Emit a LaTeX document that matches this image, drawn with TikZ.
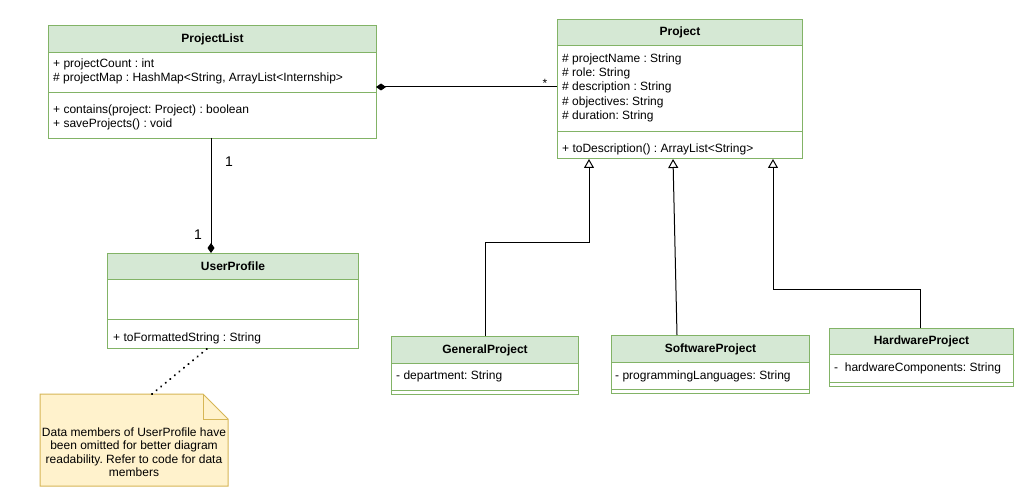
\documentclass[tikz,border=0pt]{standalone}
\usepackage{fontspec}
\setmainfont{Liberation Sans}
\usetikzlibrary{arrows.meta,calc}
\definecolor{hdr}{HTML}{D5E8D4}
\definecolor{hdrline}{HTML}{82B366}
\definecolor{notefill}{HTML}{FFF2CC}
\definecolor{noteline}{HTML}{D6B656}
\tikzset{
  classbox/.style={draw=hdrline, fill=white, line width=1pt, anchor=north west, inner sep=0pt},
  hdrbox/.style={draw=hdrline, fill=hdr, line width=1pt, anchor=north west, inner sep=0pt},
  title/.style={font=\fontsize{12}{14}\selectfont\bfseries, inner sep=0pt},
  member/.style={font=\fontsize{12}{14}\selectfont\frenchspacing, anchor=base west, inner sep=0pt},
  divider/.style={draw=hdrline, line width=1pt},
  conn/.style={draw=black, line width=1pt},
  inherit/.style={conn, -{Triangle[open, length=9pt, width=10pt]}},
  compos/.style={conn, {Diamond[length=10pt, width=7pt]}-},
  mult/.style={font=\fontsize{14}{16}\selectfont, inner sep=0pt},
  notetext/.style={font=\fontsize{12}{13.5}\selectfont\frenchspacing, align=center, inner sep=0pt}
}
\begin{document}
\begin{tikzpicture}[x=1pt, y=-1pt]
\useasboundingbox[fill=white] (0,0) rectangle (1030,497);

% ProjectList
\node[classbox, minimum width=328pt, minimum height=113pt] (pl) at (48,25) {};
\node[hdrbox, minimum width=328pt, minimum height=27pt] (plh) at (48,25) {};
\node[title] (plt) at (plh.center) {ProjectList};
\draw[divider] (48,93) -- (376,93);
\node[member] (pla1) at (53,67.5) {+ projectCount : int};
\node[member] (pla2) at (53,81.5) {\# projectMap : HashMap<String, ArrayList<Internship>};
\node[member] (plm1) at (53,113.5) {+ contains(project: Project) : boolean};
\node[member] (plm2) at (53,127.5) {+ saveProjects() : void};

% Project
\node[classbox, minimum width=245pt, minimum height=139pt] (pj) at (557,19) {};
\node[hdrbox, minimum width=245pt, minimum height=26pt] (pjh) at (557,19) {};
\node[title] (pjt) at (pjh.center) {Project};
\draw[divider] (557,132) -- (802,132);
\node[member] (pja1) at (562,62.5) {\# projectName : String};
\node[member] (pja2) at (562,76.7) {\# role: String};
\node[member] (pja3) at (562,91) {\# description : String};
\node[member] (pja4) at (562,105.2) {\# objectives: String};
\node[member] (pja5) at (562,119.4) {\# duration: String};
\node[member] (pjm1) at (562,152.5) {+ toDescription() : ArrayList<String>};

% UserProfile
\node[classbox, minimum width=251pt, minimum height=95pt] (up) at (107,253) {};
\node[hdrbox, minimum width=251pt, minimum height=26pt] (uph) at (107,253) {};
\node[title] (upt) at (uph.center) {UserProfile};
\draw[divider] (107,319) -- (358,319);
\node[member] (upm1) at (113,341) {+ toFormattedString : String};

% GeneralProject
\node[classbox, minimum width=187pt, minimum height=58pt] (gp) at (391,336) {};
\node[hdrbox, minimum width=187pt, minimum height=27pt] (gph) at (391,336) {};
\node[title] (gpt) at (gph.center) {GeneralProject};
\draw[divider] (391,390) -- (578,390);
\node[member] (gpa1) at (396,379.5) {- department: String};

% SoftwareProject
\node[classbox, minimum width=198pt, minimum height=58pt] (sp) at (611,335) {};
\node[hdrbox, minimum width=198pt, minimum height=27pt] (sph) at (611,335) {};
\node[title] (spt) at (sph.center) {SoftwareProject};
\draw[divider] (611,389) -- (809,389);
\node[member] (spa1) at (615,379) {- programmingLanguages: String};

% HardwareProject
\node[classbox, minimum width=184pt, minimum height=58pt] (hp) at (829,328) {};
\node[hdrbox, minimum width=184pt, minimum height=26pt] (hph) at (829,328) {};
\node[title] (hpt) at (hph.center) {HardwareProject};
\draw[divider] (829,382) -- (1013,382);
\node[member] (hpa1) at (834,371.5) {-\ \ hardwareComponents: String};

% Note
\coordinate (noteTop) at (152,394);
\draw[draw=noteline, fill=notefill, line width=1pt] (40,394) -- (203,394) -- (228,419) -- (228,486) -- (40,486) -- cycle;
\draw[draw=noteline, line width=1pt] (203,394) -- (203,419) -- (228,419);
\node[notetext] (nt) at (134,452) {Data members of UserProfile have\\been omitted for better diagram\\readability. Refer to code for data\\members};

% Connectors
\coordinate (plR) at (376,87);
\coordinate (pjL) at (557,87);
\draw[compos] (plR) -- (pjL);
\node[font=\fontsize{12}{14}\selectfont, inner sep=0pt] (star) at (545,83) {*};

\coordinate (plB) at (211,138);
\coordinate (upT) at (211,253);
\draw[conn, -{Diamond[length=10pt, width=7pt]}] (plB) -- (upT);
\node[mult] (m1) at (229,162) {1};
\node[mult] (m2) at (198,235) {1};

\coordinate (upB) at (208,348);
\draw[line width=2.2pt, dash pattern=on 0.1pt off 5.8pt, line cap=round] (noteTop) -- (upB);

\coordinate (gpT) at (485,336);
\coordinate (pjB1) at (589,159);
\draw[inherit] (gpT) -- (485,242) -- (589,242) -- (pjB1);

\coordinate (spT) at (677,335);
\coordinate (pjB2) at (673,159);
\draw[inherit] (spT) -- (pjB2);

\coordinate (hpT) at (920,328);
\coordinate (pjB3) at (773,159);
\draw[inherit] (hpT) -- (920,289) -- (773,289) -- (pjB3);
\end{tikzpicture}
\end{document}
